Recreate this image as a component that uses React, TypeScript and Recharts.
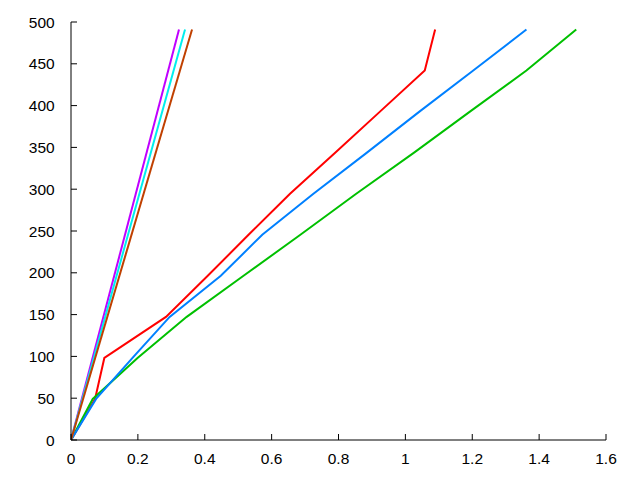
import React from 'react';
import { LineChart, Line, XAxis, YAxis } from 'recharts';

const yLevels = [0, 49.1, 98.2, 147.3, 196.4, 245.5, 294.6, 343.7, 392.8, 441.9, 491];
const redX = [0, 0.072, 0.0997, 0.284, 0.409, 0.531, 0.655, 0.79, 0.924, 1.058, 1.089];
const greenX = [0, 0.065, 0.199, 0.346, 0.516, 0.686, 0.853, 1.026, 1.193, 1.362, 1.511];
const blueX = [0, 0.075, 0.184, 0.295, 0.448, 0.572, 0.725, 0.885, 1.042, 1.203, 1.362];

const steepY = [0, 491];
const purpleX = [0, 0.323];
const cyanX = [0, 0.341];
const brownX = [0, 0.362];

const xTicks = [0, 0.2, 0.4, 0.6, 0.8, 1, 1.2, 1.4, 1.6];
const yTicks = [0, 50, 100, 150, 200, 250, 300, 350, 400, 450, 500];

const toPoints = (xs: number[], ys: number[]) => xs.map((x, i) => ({ x, y: ys[i] }));

const series = [
  { name: 'red', color: '#ff0000', data: toPoints(redX, yLevels) },
  { name: 'green', color: '#00c000', data: toPoints(greenX, yLevels) },
  { name: 'blue', color: '#0080ff', data: toPoints(blueX, yLevels) },
  { name: 'purple', color: '#c000ff', data: toPoints(purpleX, steepY) },
  { name: 'cyan', color: '#00eeee', data: toPoints(cyanX, steepY) },
  { name: 'brown', color: '#c04000', data: toPoints(brownX, steepY) },
];

const FONT = 'Liberation Sans';
const SIZE = 15.5;
const axisLine = { stroke: '#000', strokeWidth: 1 };
const tickLine = { stroke: '#000', strokeWidth: 1 };

const BottomTick = (props: any) => {
  const { x, y, payload } = props;
  return (
    <text x={x} y={y} dy="0.71em" textAnchor="middle" fontFamily={FONT} fontSize={SIZE} fill="#000">
      {String(payload.value)}
    </text>
  );
};

const LeftTick = (props: any) => {
  const { x, y, payload } = props;
  return (
    <text x={x} y={y} dy="0.355em" textAnchor="end" fontFamily={FONT} fontSize={SIZE} fill="#000">
      {String(payload.value)}
    </text>
  );
};

export default function App() {
  return (
    <div style={{ position: 'absolute', left: 0, top: 0, width: 640, height: 480, background: '#fff' }}>
      <LineChart width={640} height={480} margin={{ top: 22, right: 34, bottom: 10, left: 11 }}>
        <XAxis
          xAxisId={0}
          dataKey="x"
          type="number"
          domain={[0, 1.6]}
          ticks={xTicks}
          allowDataOverflow
          orientation="bottom"
          height={30}
          tickSize={-6}
          tickMargin={19}
          axisLine={axisLine}
          tickLine={tickLine}
          tick={<BottomTick />}
          interval={0}
        />
        <XAxis
          xAxisId="top"
          dataKey="x"
          type="number"
          domain={[0, 1.6]}
          ticks={xTicks}
          allowDataOverflow
          orientation="top"
          height={0}
          tickSize={-6}
          axisLine={axisLine}
          tickLine={tickLine}
          tickFormatter={() => ''}
          interval={0}
        />
        <YAxis
          yAxisId={0}
          type="number"
          domain={[0, 500]}
          ticks={yTicks}
          allowDataOverflow
          orientation="left"
          width={60}
          tickSize={-6}
          tickMargin={22.3}
          axisLine={axisLine}
          tickLine={tickLine}
          tick={<LeftTick />}
          interval={0}
        />
        <YAxis
          yAxisId="right"
          type="number"
          domain={[0, 500]}
          ticks={yTicks}
          allowDataOverflow
          orientation="right"
          width={0}
          tickSize={-6}
          axisLine={axisLine}
          tickLine={tickLine}
          tickFormatter={() => ''}
          interval={0}
        />
        {series.map((s) => (
          <Line
            key={s.name}
            data={s.data}
            dataKey="y"
            xAxisId={0}
            yAxisId={0}
            type="linear"
            stroke={s.color}
            strokeWidth={2}
            dot={false}
            activeDot={false}
            isAnimationActive={false}
          />
        ))}
      </LineChart>
    </div>
  );
}
